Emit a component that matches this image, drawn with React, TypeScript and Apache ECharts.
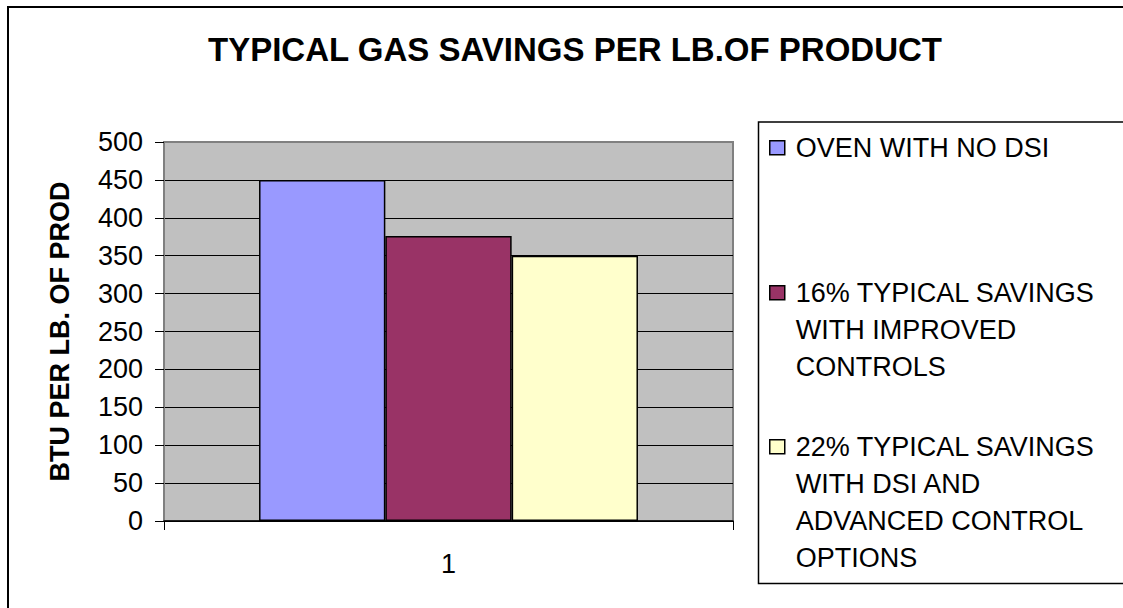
import React, { useEffect, useRef } from "react";
import * as echarts from "echarts";

const TITLE = "TYPICAL GAS SAVINGS PER LB.OF PRODUCT";
const Y_AXIS_NAME = "BTU PER LB. OF PROD";
const categories = ["1"];
const legendLines: string[][] = [
  ["OVEN WITH NO DSI"],
  ["16% TYPICAL SAVINGS", "WITH IMPROVED", "CONTROLS"],
  ["22% TYPICAL SAVINGS", "WITH DSI AND", "ADVANCED CONTROL", "OPTIONS"],
];
const seriesNames = legendLines.map((l) => l.join(" "));
const ovenNoDsi = [450];
const improvedControls = [376];
const dsiAdvanced = [350];
const seriesValues = [ovenNoDsi, improvedControls, dsiAdvanced];
const colors = ["#9999FF", "#993366", "#FFFFCC"];
const yMin = 0;
const yMax = 500;
const yInterval = 50;

const FONT = "'Liberation Sans', Arial, Helvetica, sans-serif";

export default function App() {
  const ref = useRef<HTMLDivElement>(null);
  useEffect(() => {
    if (!ref.current) return;
    const chart = echarts.init(ref.current, undefined, { renderer: "svg" });
    const L = 37;
    const SQ_W = 15;
    const SQ_H = 14;
    const EXTRA = 6;
    const firstLineCenters = [147, 292, 446];
    const legends = legendLines.map((lines, i) => {
      const n = lines.length;
      const h = n * L;
      const w = SQ_W + EXTRA;
      const y0 = (L - SQ_H) / 2;
      const iconPath = `path://M0 ${y0}H${SQ_W}V${y0 + SQ_H}H0Z M0 0 M0 ${h} M${w} ${h} M${w} 0`;
      return {
        show: true,
        orient: "vertical",
        left: 769,
        top: firstLineCenters[i] - L / 2,
        padding: 0,
        itemWidth: w,
        itemHeight: h,
        selectedMode: false,
        itemStyle: { borderColor: "#000", borderWidth: 1.5 },
        data: [{ name: seriesNames[i], icon: iconPath }],
        formatter: () => lines.join("\n"),
        textStyle: {
          fontFamily: FONT,
          fontSize: 27,
          lineHeight: L,
          color: "#000",
        },
      };
    });

    chart.setOption({
      animation: false,
      backgroundColor: "#fff",
      textStyle: { fontFamily: FONT },
      title: {
        text: TITLE,
        left: 208,
        top: 33,
        padding: 0,
        textStyle: {
          fontFamily: FONT,
          fontSize: 33,
          fontWeight: "bold",
          color: "#000",
        },
      },
      legend: legends,
      graphic: [
        {
          type: "rect",
          z: -10,
          shape: { x: 8, y: 7, width: 1300, height: 800 },
          style: { fill: "none", stroke: "#000", lineWidth: 2 },
        },
        {
          type: "rect",
          z: -10,
          shape: { x: 758.5, y: 122, width: 500, height: 461.5 },
          style: { fill: "none", stroke: "#000", lineWidth: 1.5 },
        },
      ],
      grid: {
        left: 164,
        right: 390,
        top: 142,
        bottom: 87,
        show: true,
        backgroundColor: "#C0C0C0",
        borderColor: "#808080",
        borderWidth: 2,
      },
      xAxis: {
        type: "category",
        data: categories,
        axisLine: { show: true, lineStyle: { color: "#000", width: 1.5 } },
        axisTick: { show: true, length: 9, lineStyle: { color: "#000" } },
        axisLabel: {
          fontFamily: FONT,
          fontSize: 27,
          color: "#000",
          margin: 29,
        },
        splitLine: { show: false },
      },
      yAxis: {
        type: "value",
        min: yMin,
        max: yMax,
        interval: yInterval,
        name: Y_AXIS_NAME,
        nameLocation: "middle",
        nameRotate: 90,
        nameGap: 91,
        nameTextStyle: {
          fontFamily: FONT,
          fontSize: 27,
          fontWeight: "bold",
          color: "#000",
        },
        axisLine: { show: true, lineStyle: { color: "#808080", width: 2 } },
        axisTick: { show: true, length: 9, lineStyle: { color: "#000" } },
        axisLabel: {
          fontFamily: FONT,
          fontSize: 27,
          color: "#000",
          margin: 21,
        },
        splitLine: {
          show: true,
          showMaxLine: false,
          lineStyle: { color: "#000", width: 1.2 },
        },
      },
      series: seriesValues.map((vals, i) => ({
        type: "bar",
        name: seriesNames[i],
        data: vals,
        barGap: "0%",
        barCategoryGap: "33.4%",
        itemStyle: { color: colors[i], borderColor: "#000", borderWidth: 1.5 },
      })),
    });
    return () => chart.dispose();
  }, []);
  return (
    <div
      ref={ref}
      style={{ position: "absolute", left: 0, top: 0, width: 1123, height: 608 }}
    />
  );
}
